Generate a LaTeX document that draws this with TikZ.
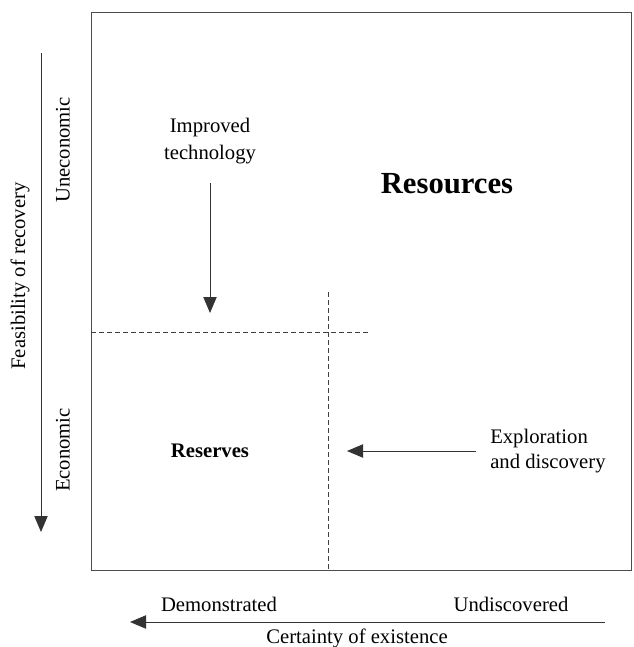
\documentclass[tikz,border=0pt]{standalone}
\usepackage{fontspec}
\setmainfont{Liberation Serif}
\usetikzlibrary{arrows.meta}

\tikzset{
    lbl/.style={font=\fontsize{15.5}{18}\selectfont, inner sep=0pt},
    tip/.style={-{Triangle[length=12pt,width=10pt]}, line width=0.6pt, draw=black!80, fill=black},
    cut/.style={dashed, dash pattern=on 3.5pt off 2.5pt, line width=0.55pt, draw=black!75}
}

\begin{document}
\begin{tikzpicture}[x=0.75pt,y=-0.75pt]
            \useasboundingbox (0,0) rectangle (633,647);
            \draw[line width=0.7pt,draw=black!70] (91,12) rectangle (631,570);

            % dashed split
            \coordinate (hcutA) at (91,332);
            \coordinate (hcutB) at (368,332);
            \coordinate (vcutA) at (328,292);
            \coordinate (vcutB) at (328,570);
            \draw[cut] (hcutA) -- (hcutB);
            \draw[cut] (vcutA) -- (vcutB);

            \node[lbl,font=\fontsize{23}{26}\selectfont\bfseries] (resources) at (447,184) {Resources};
            \node[lbl,font=\fontsize{15.5}{18}\selectfont\bfseries] (reserves) at (210,451) {Reserves};

            \node[lbl,align=center] (tech) at (210,141) {Improved\\[2pt]technology};
            \coordinate (techend) at (210,313);
            \draw[tip] (210,183) -- (techend);

            \node[lbl,align=left,anchor=west] (explore) at (490,451) {Exploration\\[1pt]and discovery};
            \coordinate (exploreend) at (347,451);
            \draw[tip] (476,451) -- (exploreend);

            % left axis
            \coordinate (feasA) at (41,53);
            \coordinate (feasB) at (41,532);
            \draw[tip] (feasA) -- (feasB);
            \node[lbl,rotate=90] (feas) at (20,276) {Feasibility of recovery};
            \node[lbl,rotate=90] (unecon) at (63,150) {Uneconomic};
            \node[lbl,rotate=90] (econ) at (63,450) {Economic};

            % bottom axis
            \coordinate (certA) at (605,622);
            \coordinate (certB) at (130,622);
            \draw[tip] (certA) -- (certB);
            \node[lbl] (demo) at (219,604) {Demonstrated};
            \node[lbl] (undisc) at (511,604) {Undiscovered};
            \node[lbl] (cert) at (357,638) {Certainty of existence};
        \end{tikzpicture}
\end{document}
